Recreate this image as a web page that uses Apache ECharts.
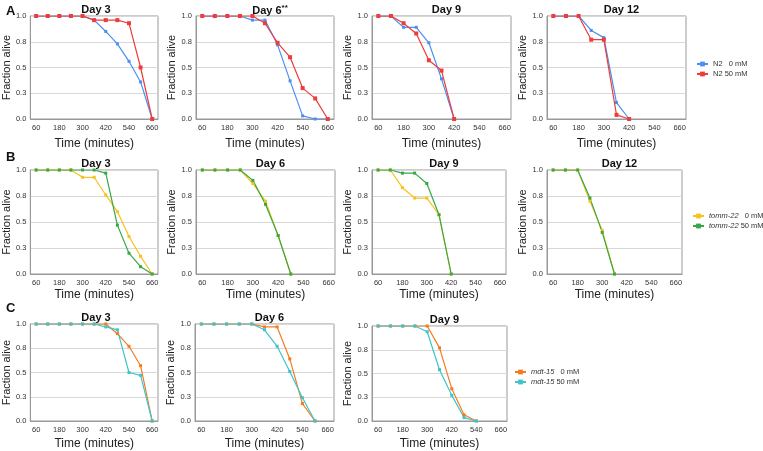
<!DOCTYPE html>
<html>
<head>
<meta charset="utf-8">
<script src="https://cdn.jsdelivr.net/npm/echarts@6/dist/echarts.min.js"></script>
<style>
  html, body { margin: 0; padding: 0; background: #fff; }
  #chart { width: 763px; height: 451px; }
</style>
</head>
<body>
<div id="chart"></div>
<script>
// time points (minutes)
var minutes = ['60', '120', '180', '240', '300', '360', '420', '480', '540', '600', '660'];
var yTicks = [0, 0.25, 0.5, 0.75, 1];

// A: N2
var n2_0mM_day3 = [1, 1, 1, 1, 1, 0.96, 0.85, 0.73, 0.56, 0.36, 0];
var n2_50mM_day3 = [1, 1, 1, 1, 1, 0.96, 0.96, 0.96, 0.93, 0.5, 0];
var n2_0mM_day6 = [1, 1, 1, 1, 0.96, 0.96, 0.72, 0.37, 0.03, 0, 0];
var n2_50mM_day6 = [1, 1, 1, 1, 1, 0.93, 0.74, 0.6, 0.3, 0.2, 0];
var n2_0mM_day9 = [1, 1, 0.89, 0.89, 0.74, 0.39, 0];
var n2_50mM_day9 = [1, 1, 0.93, 0.83, 0.57, 0.47, 0];
var n2_0mM_day12 = [1, 1, 1, 0.86, 0.79, 0.16, 0];
var n2_50mM_day12 = [1, 1, 1, 0.77, 0.77, 0.04, 0];

// B: tomm-22
var tomm_0mM_day3 = [1, 1, 1, 1, 0.93, 0.93, 0.76, 0.6, 0.36, 0.17, 0];
var tomm_50mM_day3 = [1, 1, 1, 1, 1, 1, 0.97, 0.47, 0.2, 0.07, 0];
var tomm_0mM_day6 = [1, 1, 1, 1, 0.87, 0.7, 0.37, 0];
var tomm_50mM_day6 = [1, 1, 1, 1, 0.9, 0.67, 0.37, 0];
var tomm_0mM_day9 = [1, 1, 0.83, 0.73, 0.73, 0.57, 0];
var tomm_50mM_day9 = [1, 1, 0.97, 0.97, 0.87, 0.57, 0];
var tomm_0mM_day12 = [1, 1, 1, 0.7, 0.42, 0];
var tomm_50mM_day12 = [1, 1, 1, 0.73, 0.4, 0];

// C: mdt-15
var mdt_0mM_day3 = [1, 1, 1, 1, 1, 1, 1, 0.9, 0.77, 0.57, 0];
var mdt_50mM_day3 = [1, 1, 1, 1, 1, 1, 0.97, 0.94, 0.5, 0.47, 0];
var mdt_0mM_day6 = [1, 1, 1, 1, 1, 0.97, 0.97, 0.64, 0.18, 0];
var mdt_50mM_day6 = [1, 1, 1, 1, 1, 0.94, 0.77, 0.51, 0.24, 0];
var mdt_0mM_day9 = [1, 1, 1, 1, 1, 0.77, 0.34, 0.065, 0];
var mdt_50mM_day9 = [1, 1, 1, 1, 0.94, 0.54, 0.27, 0.036, 0];

var myChart = echarts.init(document.getElementById('chart'));

var grids = [], xAxes = [], yAxes = [], series = [], titles = [];

// one small plot
function panel(box, title, lines) {
    var i = grids.length;
    grids.push({left: box[0], top: box[1], width: box[2], height: box[3],
        show: true, borderColor: '#999', borderWidth: 1});
    xAxes.push({
        type: 'category', gridIndex: i, data: minutes, boundaryGap: true,
        name: 'Time (minutes)', nameLocation: 'middle', nameGap: box[4],
        nameTextStyle: {fontSize: 12, color: '#222', fontFamily: 'Liberation Sans'},
        axisLine: {lineStyle: {color: '#999'}},
        axisTick: {show: false},
        axisLabel: {interval: 1, fontSize: 7.5, color: '#333', margin: 5, fontFamily: 'Liberation Sans'}
    });
    yAxes.push({
        type: 'value', gridIndex: i, min: 0, max: 1, interval: 0.25,
        name: 'Fraction alive', nameLocation: 'middle', nameGap: 12,
        nameTextStyle: {fontSize: 11, color: '#222', fontFamily: 'Liberation Sans'},
        axisLine: {show: true, lineStyle: {color: '#999'}},
        axisTick: {show: false},
        axisLabel: {fontSize: 7.5, color: '#333', margin: 4, fontFamily: 'Liberation Sans',
            formatter: function (v) { return v.toFixed(1); }},
        splitLine: {lineStyle: {color: '#d8d8d8'}}
    });
    titles.push({
        text: title, left: box[0] + box[2] / 2, top: box[1] - 17, textAlign: 'center',
        textStyle: {fontSize: 11, fontWeight: 'bold', color: '#111', fontFamily: 'Liberation Sans',
            rich: {sup: {fontSize: 8, fontWeight: 'bold', verticalAlign: 'top', padding: [0, 0, 6, 0]}}}
    });
    lines.forEach(function (l) {
        series.push({
            type: 'line', name: l.name, xAxisIndex: i, yAxisIndex: i, data: l.data,
            symbol: 'rect', symbolSize: l.size || 3, showSymbol: true,
            lineStyle: {width: 1.2, color: l.color}, itemStyle: {color: l.color},
            animation: false
        });
    });
}

var cBlue = '#4b8ff2', cRed = '#ee3b3b';
var cYellow = '#f8c21c', cGreen = '#37a844';
var cOrange = '#f57c1e', cCyan = '#3fc4cb';

var A = ['N2   0 mM', 'N2 50 mM'];
var B = ['tomm-22   0 mM', 'tomm-22 50 mM'];
var C = ['mdt-15   0 mM', 'mdt-15 50 mM'];

panel([24, 16, 134, 103, 19], 'Day 3', [
    {name: A[0], data: n2_0mM_day3, color: cBlue},
    {name: A[1], data: n2_50mM_day3, color: cRed, size: 4}]);
panel([196, 16, 138, 103, 19], 'Day 6{sup|**}', [
    {name: A[0], data: n2_0mM_day6, color: cBlue},
    {name: A[1], data: n2_50mM_day6, color: cRed, size: 4}]);
panel([372, 16, 139, 103, 19], 'Day 9', [
    {name: A[0], data: n2_0mM_day9, color: cBlue},
    {name: A[1], data: n2_50mM_day9, color: cRed, size: 4}]);
panel([547, 16, 139, 103, 19], 'Day 12', [
    {name: A[0], data: n2_0mM_day12, color: cBlue},
    {name: A[1], data: n2_50mM_day12, color: cRed, size: 4}]);

panel([24, 170, 134, 104, 15], 'Day 3', [
    {name: B[0], data: tomm_0mM_day3, color: cYellow},
    {name: B[1], data: tomm_50mM_day3, color: cGreen}]);
panel([196, 170, 139, 104, 15], 'Day 6', [
    {name: B[0], data: tomm_0mM_day6, color: cYellow},
    {name: B[1], data: tomm_50mM_day6, color: cGreen}]);
panel([372, 170, 134, 104, 15], 'Day 9', [
    {name: B[0], data: tomm_0mM_day9, color: cYellow},
    {name: B[1], data: tomm_50mM_day9, color: cGreen}]);
panel([547, 170, 135, 104, 15], 'Day 12', [
    {name: B[0], data: tomm_0mM_day12, color: cYellow},
    {name: B[1], data: tomm_50mM_day12, color: cGreen}]);

panel([24, 324, 134, 105, 17], 'Day 3', [
    {name: C[0], data: mdt_0mM_day3, color: cOrange},
    {name: C[1], data: mdt_50mM_day3, color: cCyan}]);
panel([195, 324, 139, 105, 17], 'Day 6', [
    {name: C[0], data: mdt_0mM_day6, color: cOrange},
    {name: C[1], data: mdt_50mM_day6, color: cCyan}]);
panel([372, 326, 135, 103, 17], 'Day 9', [
    {name: C[0], data: mdt_0mM_day9, color: cOrange},
    {name: C[1], data: mdt_50mM_day9, color: cCyan}]);

// panel letters
['A', 'B', 'C'].forEach(function (t, k) {
    titles.push({text: t, left: 1, top: [0, 146, 297][k],
        textStyle: {fontSize: 13, fontWeight: 'bold', color: '#111', fontFamily: 'Liberation Sans'}});
});

function legendFmt(name) {
    var gene = name.split(' ')[0];
    var rest = name.slice(gene.length);
    if (gene === 'N2') return name;
    return '{i|' + gene + '}' + rest;
}

var legendText = {fontSize: 7.5, color: '#333', fontFamily: 'Liberation Sans',
    rich: {i: {fontStyle: 'italic', fontSize: 7.5, color: '#333', fontFamily: 'Liberation Sans'}}};

function legend(names, x, y) {
    return {data: names, left: x, top: y, orient: 'vertical', itemGap: 2,
        itemWidth: 11, itemHeight: 6, formatter: legendFmt, textStyle: legendText,
        selectedMode: false, padding: 0};
}

var option = {
    backgroundColor: '#fff',
    animation: false,
    title: titles,
    grid: grids,
    xAxis: xAxes,
    yAxis: yAxes,
    legend: [legend(A, 696, 60), legend(B, 692, 212), legend(C, 514, 368)],
    series: series
};

myChart.setOption(option);
</script>
</body>
</html>
